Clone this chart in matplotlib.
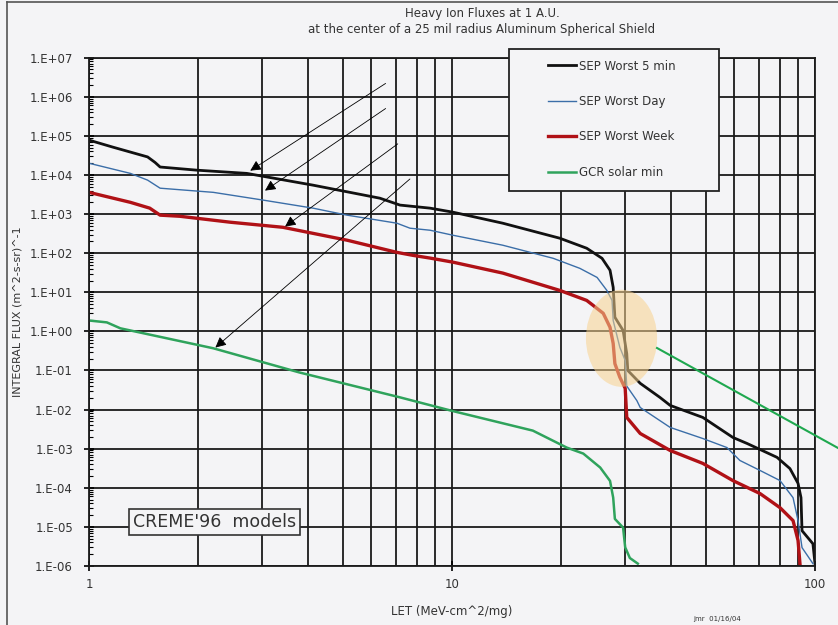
import matplotlib
matplotlib.use("Agg")
import matplotlib.pyplot as plt
from matplotlib.patches import Ellipse, Rectangle
from matplotlib.lines import Line2D
from matplotlib.ticker import LogLocator, NullFormatter

# LET (MeV-cm^2/mg) vs integral flux (m^2-s-sr)^-1
worst5min_let = [1.0, 1.16, 1.45, 1.52, 1.57, 1.98, 2.72, 4.14, 6.33, 7.19, 8.7, 10.06, 13.8,
                 19.8, 23.5, 25.9, 27.25, 27.8, 28.1, 29.6, 30.3, 30.5, 33.0, 37.4, 39.9,
                 49.1, 59.4, 65.0, 78.6, 85.3, 89.8, 91.5, 92.1, 98.7, 100.0]
worst5min_flux = [7.8e4, 5.2e4, 2.9e4, 2.1e4, 1.6e4, 1.33e4, 1.1e4, 5.5e3, 2.55e3, 1.7e3, 1.42e3,
                  1.12e3, 585, 242, 134, 74, 36.6, 13.4, 2.3, 1.06, 0.27, 0.10, 0.047, 0.0205,
                  0.0128, 6.3e-3, 1.94e-3, 1.36e-3, 6.0e-4, 3.1e-4, 1.3e-4, 5.6e-5, 8.0e-6,
                  3.7e-6, 1.15e-6]

worstday_let = [1.0, 1.3, 1.45, 1.57, 2.2, 3.0, 4.14, 5.14, 7.05, 7.66, 8.7, 10.06, 13.8, 19.0,
                22.5, 25.1, 26.7, 27.6, 27.8, 29.0, 30.0, 30.3, 32.3, 33.0, 39.9, 49.1, 57.2,
                62.1, 70.6, 80.1, 87.0, 89.8, 92.1, 98.7]
worstday_flux = [2.0e4, 1.1e4, 7.4e3, 4.6e3, 3.6e3, 2.3e3, 1.42e3, 940, 585, 436, 387, 288, 160,
                 74, 41, 24, 11.2, 6.2, 1.9, 0.39, 0.18, 0.04, 0.017, 0.0113, 3.5e-3, 1.82e-3,
                 1.07e-3, 5.0e-4, 2.77e-4, 1.53e-4, 5.6e-5, 1.45e-5, 2.95e-6, 1.15e-6]

worstweek_let = [1.0, 1.3, 1.47, 1.57, 1.78, 2.45, 3.42, 5.14, 7.05, 7.81, 8.7, 10.06, 13.8, 19.8,
                 23.5, 24.5, 26.1, 27.25, 27.8, 28.1, 29.0, 30.0, 30.3, 33.0, 39.9, 49.1, 59.4,
                 70.6, 80.1, 87.0, 89.8, 90.9]
worstweek_flux = [3.6e3, 2.0e3, 1.42e3, 940, 880, 620, 460, 215, 105, 88, 75, 59, 31, 11.2, 6.2,
                  4.6, 2.9, 1.27, 0.49, 0.15, 0.067, 0.035, 6.3e-3, 2.45e-3, 9.0e-4, 4.2e-4,
                  1.53e-4, 7.1e-5, 3.1e-5, 1.45e-5, 4.5e-6, 1.15e-6]

gcr_let = [1.0, 1.12, 1.22, 2.2, 3.8, 7.2, 9.9, 16.7, 20.7, 23.0, 25.6, 27.25, 27.8, 28.1, 29.6,
           30.0, 30.9, 32.5]
gcr_flux = [1.9, 1.7, 1.2, 0.37, 0.089, 0.0205, 9.5e-3, 2.9e-3, 1.07e-3, 7.5e-4, 3.3e-4, 1.5e-4,
            5.6e-5, 1.6e-5, 9.6e-6, 3.0e-6, 1.6e-6, 1.15e-6]

series_labels = ["SEP Worst 5 min", "SEP Worst Day", "SEP Worst Week", "GCR solar min"]

y_ticks = [1e-6, 1e-5, 1e-4, 1e-3, 1e-2, 1e-1, 1e0, 1e1, 1e2, 1e3, 1e4, 1e5, 1e6, 1e7]
y_tick_labels = ["1.E-06", "1.E-05", "1.E-04", "1.E-03", "1.E-02", "1.E-01", "1.E+00",
                 "1.E+01", "1.E+02", "1.E+03", "1.E+04", "1.E+05", "1.E+06", "1.E+07"]
x_ticks = [1, 10, 100]
x_tick_labels = ["1", "10", "100"]

# annotation arrows: (tip LET, tip flux), (tail LET, tail flux)
arrows = [((2.74, 1.18e4), (6.66, 2.4e6)),
          ((3.01, 3.64e3), (6.66, 5.5e5)),
          ((3.42, 436), (7.19, 6.9e4)),
          ((2.2, 0.347), (7.76, 8.8e3))]

bg = "#f4f4f6"
txt = "#333333"

fig = plt.figure(figsize=(8.38, 6.25), dpi=100, facecolor=bg)
ax = fig.add_axes([89/838, 1-566/625, 726/838, 508.3/625], facecolor=bg)

l1, = ax.plot(worst5min_let, worst5min_flux, color="#111111", lw=2.0, label=series_labels[0])
l2, = ax.plot(worstday_let, worstday_flux, color="#3b6ea8", lw=1.0, label=series_labels[1])
l3, = ax.plot(worstweek_let, worstweek_flux, color="#b01116", lw=2.4, label=series_labels[2])
l4, = ax.plot(gcr_let, gcr_flux, color="#2fa35c", lw=1.8, label=series_labels[3])

ax.set_xscale("log")
ax.set_yscale("log")
ax.set_xlim(1, 100)
ax.set_ylim(1e-6, 1e7)

ax.set_yticks(y_ticks)
ax.set_yticklabels(y_tick_labels)
ax.yaxis.set_minor_locator(LogLocator(base=10, subs=range(2, 10), numticks=30))
ax.yaxis.set_minor_formatter(NullFormatter())
ax.set_xticks(x_ticks)
ax.set_xticklabels(x_tick_labels)
ax.xaxis.set_minor_locator(LogLocator(base=10, subs=range(2, 10), numticks=30))
ax.xaxis.set_minor_formatter(NullFormatter())

ax.tick_params(axis="y", which="major", direction="inout", length=7, width=1.2,
               labelsize=8.5, labelcolor=txt, pad=8)
ax.tick_params(axis="x", which="major", direction="inout", length=7, width=1.2,
               labelsize=8.5, labelcolor=txt, pad=5)
ax.tick_params(axis="y", which="minor", direction="in", length=3, width=0.8)
ax.tick_params(axis="x", which="minor", length=0)

ax.grid(True, which="major", axis="both", color="#1a1a1a", lw=1.3)
ax.grid(True, which="minor", axis="x", color="#1a1a1a", lw=1.3)
ax.set_axisbelow(True)
for s in ax.spines.values():
    s.set_color("#1a1a1a")
    s.set_linewidth(1.3)

for tip, tail in arrows:
    ax.annotate("", xy=tip, xytext=tail,
                arrowprops=dict(arrowstyle="-|>", color="black", lw=0.6, mutation_scale=16))

# highlighted crossing region
ax.add_patch(Ellipse((0.7335, 0.448), 0.098, 0.191, transform=ax.transAxes,
                     facecolor="#f8d28e", alpha=0.55, edgecolor="none", zorder=5))

ax.text(0.1729, 0.0866, "CREME'96  models", transform=ax.transAxes, fontsize=12.5,
        color=txt, ha="center", va="center", zorder=6,
        bbox=dict(boxstyle="square,pad=0.25", facecolor=bg, edgecolor="#333333", lw=1.2))

ax.set_xlabel("LET (MeV-cm^2/mg)", fontsize=8.5, color=txt)
ax.xaxis.set_label_coords(0.5, -0.077)
ax.set_ylabel("INTEGRAL FLUX (m^2-s-sr)^-1", fontsize=8, color=txt)
ax.yaxis.set_label_coords(-0.092, 0.5)

fig.text(482/838, 1-13/625, "Heavy Ion Fluxes at 1 A.U.", ha="center", va="center",
         fontsize=8.5, color=txt)
fig.text(482/838, 1-29/625, "at the center of a 25 mil radius Aluminum Spherical Shield",
         ha="center", va="center", fontsize=8.5, color=txt)
fig.text(693/838, 1-616/625, "jmr  01/16/04", ha="left", va="top", fontsize=5, color=txt)

# legend box sitting over the grid
fig.add_artist(Rectangle((509/838, 1-191/625), 210/838, 142/625, transform=fig.transFigure,
                         facecolor=bg, edgecolor="#222222", lw=1.3, zorder=3))
fig.legend([l1, l2, l3, l4], series_labels, loc="upper left",
           bbox_to_anchor=(537/838, 1-49/625), frameon=False, fontsize=8.5,
           handlelength=2.4, handletextpad=0.25, labelspacing=1.9, labelcolor=txt)

# pointer line from the ellipse and slide frame
fig.add_artist(Line2D([657/838, 1.0], [1-348/625, 1-448/625], transform=fig.transFigure,
                      color="#1fa84f", lw=1.5))
fig.add_artist(Line2D([7/838, 1.0], [1-2/625, 1-2/625], transform=fig.transFigure,
                      color="#555555", lw=1.2))
fig.add_artist(Line2D([7/838, 7/838], [0, 1-2/625], transform=fig.transFigure,
                      color="#555555", lw=1.2))

fig.savefig("out.png", dpi=100, facecolor=bg)
